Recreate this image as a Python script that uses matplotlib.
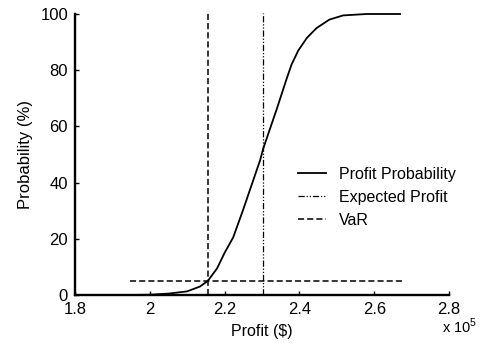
import matplotlib.pyplot as plt

plt.rcParams["font.family"] = ["Liberation Sans", "DejaVu Sans"]
plt.rcParams["mathtext.fontset"] = "custom"
plt.rcParams["mathtext.rm"] = "Liberation Sans"

# cumulative profit distribution (profit in units of 1e5 $)
profit = [1.947, 2.0, 2.05, 2.1, 2.134, 2.155, 2.18, 2.2, 2.223, 2.25,
          2.295, 2.303, 2.339, 2.366, 2.379, 2.397, 2.42, 2.446, 2.48, 2.517,
          2.58, 2.669]
probability = [0, 0.1, 0.5, 1.3, 3, 5, 9.5, 15, 20.5, 30.5,
               48, 52, 66, 77, 82, 87, 91.5, 95, 98, 99.5,
               100, 100]

expected_profit = 2.303
var_profit = 2.155
var_level = 5
var_span = [1.947, 2.675]
line_top = 100.5

x_ticks = [1.8, 2.0, 2.2, 2.4, 2.6, 2.8]
x_tick_labels = ["1.8", "2", "2.2", "2.4", "2.6", "2.8"]
y_ticks = [0, 20, 40, 60, 80, 100]

fig = plt.figure(figsize=(4.95, 3.48), dpi=100)
ax = fig.add_axes([75 / 495, 1 - 295 / 348, 374 / 495, 281 / 348])

ax.plot(profit, probability, color="black", lw=1.3, label="Profit Probability",
        clip_on=False)
ax.plot([expected_profit, expected_profit], [0, line_top], color="black", lw=0.9,
        linestyle=(0, (5, 1.5, 1, 1.5, 1, 1.5)), label="Expected Profit", clip_on=False)
ax.plot(var_span, [var_level, var_level], color="black", lw=1.1,
        linestyle=(0, (4, 2)), label="VaR", clip_on=False)
ax.plot([var_profit, var_profit], [0, line_top], color="black", lw=1.1,
        linestyle=(0, (4, 2)), clip_on=False)

ax.set_xlim(1.8, 2.8)
ax.set_ylim(0, 100)
ax.set_xticks(x_ticks)
ax.set_xticklabels(x_tick_labels)
ax.set_yticks(y_ticks)
ax.tick_params(direction="in", length=3, width=1, labelsize=12, pad=5)
ax.tick_params(axis="y", pad=5)

for side in ["top", "right"]:
    ax.spines[side].set_visible(False)
for side in ["left", "bottom"]:
    ax.spines[side].set_linewidth(1.7)

ax.set_xlabel("Profit ($)", fontsize=11.5, labelpad=5)
ax.set_ylabel("Probability (%)", fontsize=12, labelpad=5)

ax.legend(loc="upper left", bbox_to_anchor=(298 / 495, 1 - 167 / 348),
          bbox_transform=fig.transFigure, frameon=False, fontsize=11.5,
          handlelength=1.75, handletextpad=0.8, labelspacing=0.5, borderpad=0,
          borderaxespad=0)

fig.text(442 / 495, 1 - 333 / 348, r"x 10$^5$", fontsize=10.5)

fig.savefig("out.png", dpi=100)
